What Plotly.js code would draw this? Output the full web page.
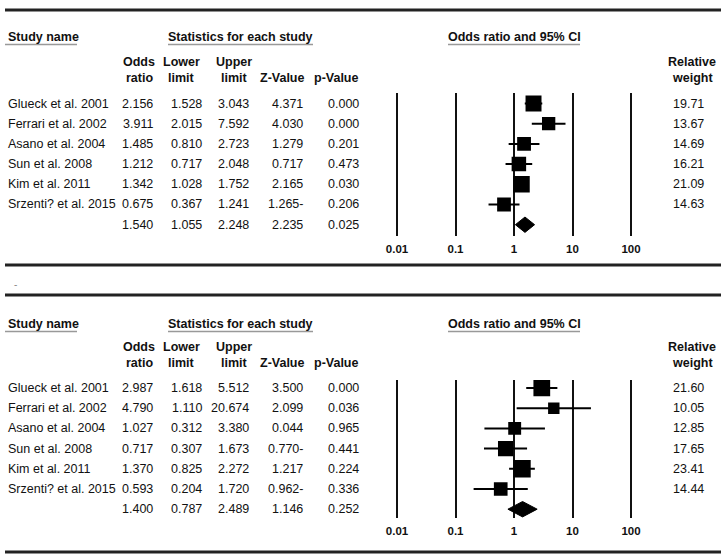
<!DOCTYPE html>
<html><head><meta charset="utf-8">
<script src="https://cdn.plot.ly/plotly-3.0.1.min.js"></script>
<style>html,body{margin:0;padding:0;background:#fff}#chart{width:722px;height:560px}</style>
</head><body><div id="chart"></div>
<script>
// ---------- data ----------
const studies = ["Glueck et al. 2001","Ferrari et al. 2002","Asano et al. 2004","Sun et al. 2008","Kim et al. 2011","Srzenti? et al. 2015"];
const tickVals = [0.01, 0.1, 1, 10, 100];
const tickLabels = ["0.01", "0.1", "1", "10", "100"];

// panel A
const orA = [2.156, 3.911, 1.485, 1.212, 1.342, 0.675];
const loA = [1.528, 2.015, 0.810, 0.717, 1.028, 0.367];
const hiA = [3.043, 7.592, 2.723, 2.048, 1.752, 1.241];
const zA  = ["4.371", "4.030", "1.279", "0.717", "2.165", "1.265-"];
const pA  = ["0.000", "0.000", "0.201", "0.473", "0.030", "0.206"];
const wA  = [19.71, 13.67, 14.69, 16.21, 21.09, 14.63];
const sumA = {or: 1.540, lo: 1.055, hi: 2.248, z: "2.235", p: "0.025"};

// panel B
const orB = [2.987, 4.790, 1.027, 0.717, 1.370, 0.593];
const loB = [1.618, 1.110, 0.312, 0.307, 0.825, 0.204];
const hiB = [5.512, 20.674, 3.380, 1.673, 2.272, 1.720];
const zB  = ["3.500", "2.099", "0.044", "0.770-", "1.217", "0.962-"];
const pB  = ["0.000", "0.036", "0.965", "0.441", "0.224", "0.336"];
const wB  = [21.60, 10.05, 12.85, 17.65, 23.41, 14.44];
const sumB = {or: 1.400, lo: 0.787, hi: 2.489, z: "1.146", p: "0.252"};

// ---------- layout helpers ----------
const W = 722, H = 560;
const FONT = "Liberation Sans, Arial, sans-serif";
const px = x => x / W, py = y => 1 - y / H;
const ann = [], shapes = [], traces = [];
function txt(x, y, t, anchor, opt) {
  opt = opt || {};
  ann.push({xref:'paper', yref:'paper', x:px(x), y:py(y), text:t, showarrow:false,
    xanchor:anchor, yanchor:'middle', borderpad:0,
    font:{family:FONT, size:opt.size || 12.5, color:opt.color || '#111'}});
}
function hline(x0, x1, y, w, c) {
  shapes.push({type:'line', xref:'paper', yref:'paper', x0:px(x0), x1:px(x1), y0:py(y), y1:py(y),
    line:{color:c, width:w}});
}

const panels = [
  {line1:10, line2:265, head:37, col1:62, col2:78, row0:103.5, step:20.2, gTop:93, gBot:236,
   or:orA, lo:loA, hi:hiA, z:zA, p:pA, w:wA, sum:sumA, xa:'x', ya:'y'},
  {line1:295, line2:552, head:324, col1:347, col2:363, row0:388, step:20.2, gTop:380, gBot:518,
   or:orB, lo:loB, hi:hiB, z:zB, p:pB, w:wB, sum:sumB, xa:'x2', ya:'y2'}
];

const layout = {
  width:W, height:H, margin:{l:0, r:0, t:0, b:0},
  paper_bgcolor:'#fff', plot_bgcolor:'#fff', showlegend:false,
  annotations:ann, shapes:shapes
};

const C = '#000';
panels.forEach((P, k) => {
  // horizontal rules
  hline(5, 721, P.line1, 3, '#222');
  hline(5, 721, P.line2, 3, '#222');
  // headers
  txt(7, P.head, '<b>Study name</b>', 'left');
  txt(241, P.head, '<b>Statistics for each study</b>', 'center');
  txt(514, P.head, '<b>Odds ratio and 95% CI</b>', 'center');
  hline(5, 77, P.head + 7.5, 1.5, '#999');
  hline(168, 313, P.head + 7.5, 1.5, '#999');
  hline(448, 580, P.head + 7.5, 1.5, '#999');
  const cols = [[139,'Odds','ratio'],[182,'Lower','limit'],[234,'Upper','limit'],[282,'','Z-Value'],[336,'','p-Value'],[692,'Relative','weight']];
  cols.forEach(c => {
    if (c[1]) txt(c[0], P.col1, '<b>' + c[1] + '</b>', 'center');
    txt(c[0], P.col2, '<b>' + c[2] + '</b>', 'center');
  });
  // rows
  const rowY = i => P.row0 + P.step * i;
  studies.forEach((s, i) => {
    const y = rowY(i);
    txt(7, y, s, 'left');
    txt(154, y, P.or[i].toFixed(3), 'right');
    txt(203, y, P.lo[i].toFixed(3), 'right');
    txt(250, y, P.hi[i].toFixed(3), 'right');
    txt(304, y, P.z[i], 'right');
    txt(360, y, P.p[i], 'right');
    txt(705, y, P.w[i].toFixed(2), 'right');
  });
  const ys = rowY(studies.length);
  txt(154, ys, P.sum.or.toFixed(3), 'right');
  txt(203, ys, P.sum.lo.toFixed(3), 'right');
  txt(250, ys, P.sum.hi.toFixed(3), 'right');
  txt(304, ys, P.sum.z, 'right');
  txt(360, ys, P.sum.p, 'right');

  // axes
  const xKey = k === 0 ? 'xaxis' : 'xaxis2';
  const yKey = k === 0 ? 'yaxis' : 'yaxis2';
  const iTop = (P.gTop - P.row0) / P.step, iBot = (P.gBot - P.row0) / P.step;
  layout[xKey] = {
    type:'log', range:[-2.2, 2.2], domain:[385.3 / W, 642.7 / W], anchor:P.ya,
    tickvals:tickVals, ticktext:tickLabels.map(t => '<b>' + t + '</b>'),
    ticks:'', showline:false, zeroline:false, showgrid:true, gridcolor:'#111', gridwidth:2,
    tickfont:{family:FONT, size:11.5, color:'#111'}, ticklabelstandoff:4, fixedrange:true
  };
  layout[yKey] = {
    range:[iBot, iTop], domain:[1 - P.gBot / H, 1 - P.gTop / H], anchor:P.xa,
    visible:false, showgrid:false, zeroline:false, fixedrange:true
  };
  // study markers with CI
  const idx = studies.map((s, i) => i);
  traces.push({
    type:'scatter', mode:'markers', xaxis:P.xa, yaxis:P.ya,
    x:P.or, y:idx,
    error_x:{type:'data', symmetric:false,
      array:P.hi.map((h, i) => h - P.or[i]), arrayminus:P.lo.map((l, i) => P.or[i] - l),
      color:C, thickness:2, width:0},
    marker:{symbol:'square', color:C, opacity:1, size:P.w.map(w => 3.6 * Math.sqrt(w)), line:{width:0}},
    hoverinfo:'skip'
  });
  // summary diamond
  const h = 0.38, r = studies.length;
  traces.push({
    type:'scatter', mode:'lines', xaxis:P.xa, yaxis:P.ya, fill:'toself', fillcolor:C,
    x:[P.sum.lo, P.sum.or, P.sum.hi, P.sum.or, P.sum.lo],
    y:[r, r - h, r, r + h, r],
    line:{color:C, width:1}, hoverinfo:'skip'
  });
});
// small stray dash between the panels
txt(15, 284, '-', 'center', {size:10, color:'#888'});

Plotly.newPlot('chart', traces, layout, {displayModeBar:false, staticPlot:true});
</script>
</body></html>
